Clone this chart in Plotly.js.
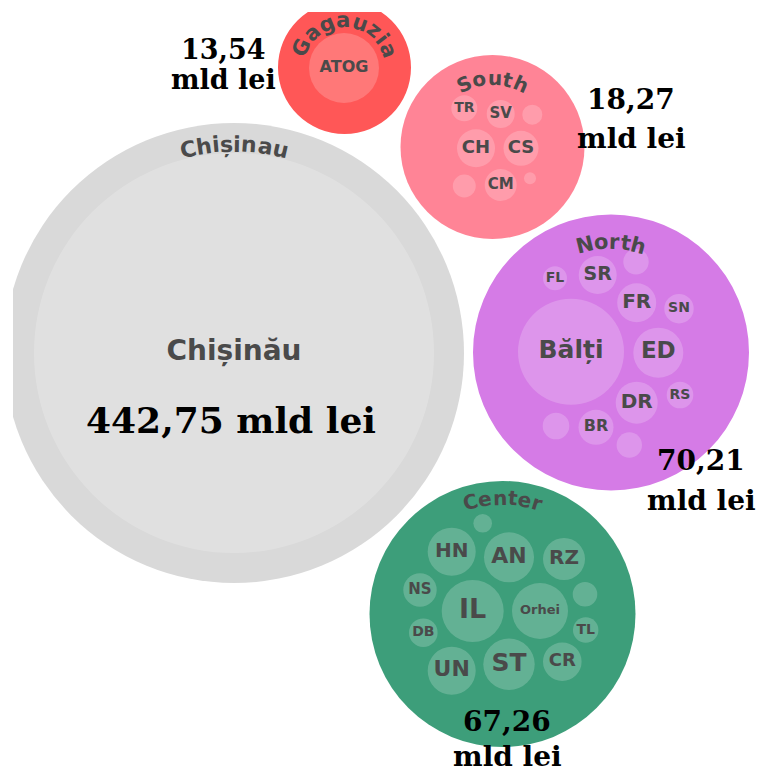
<!DOCTYPE html>
<html><head><meta charset="utf-8">
<script src="https://cdn.plot.ly/plotly-3.0.1.min.js"></script>
<style>html,body{margin:0;padding:0;background:#fff;overflow:hidden}#chart{width:758px;height:773px}</style>
</head><body><div id="chart"></div>
<script>
// ---------- DATA ----------
const groupNames     = ['Chișinău', 'Gagauzia', 'South', 'North', 'Center'];
const groupArcLabels = ['Chișinau', 'Gagauzia', 'South', 'North', 'Center'];
const groupTotals    = [442.75, 13.54, 18.27, 70.21, 67.26];   // mld lei

const leafGroup  = [0, 1,
  2,2,2,2,2,2,2,2,
  3,3,3,3,3,3,3,3,3,3,3,3,
  4,4,4,4,4,4,4,4,4,4,4,4,4];
const leafNames  = ['Chișinău', 'ATOG',
  'TR','SV','','CH','CS','','CM','',
  'Bălți','ED','FR','SR','FL','','SN','DR','RS','BR','','',
  'IL','Orhei','AN','HN','RZ','NS','','','DB','TL','UN','ST','CR'];
const leafValues = [442.75, 13.54,
  1.87, 2.17, 1.11, 4.00, 3.39, 1.46, 2.83, 0.40,
  31.1, 6.92, 4.21, 4.00, 1.59, 1.79, 2.39, 4.88, 1.96, 3.39, 1.96, 1.79,
  10.64, 8.68, 6.92, 6.38, 4.88, 3.09, 0.96, 1.67, 2.26, 1.79, 6.38, 7.31, 4.12];

// ---------- LAYOUT (positions, sizes, styles) ----------
const groupCx = [234, 344.5, 492.5, 611, 502.5];
const groupCy = [353, 67.5, 147, 352.5, 614];
const groupR  = [230, 66.5, 92, 138, 133];
const groupColors = ['#d9d9d9', '#ff5757', '#ff8496', '#d57be6', '#3d9e7a'];
const arcBaseR = [201, 40, 62, 103, 109];
const arcFont  = [22, 21, 20, 21, 20];
const leafCx = [234, 344,
  464.3, 500.7, 532.3, 476, 521, 464.3, 500.7, 530,
  571, 658.3, 636.7, 597.7, 555, 636, 679, 636.7, 680, 596, 556, 629.3,
  472.7, 540, 509, 451.7, 564, 420, 482.7, 585, 423.3, 585.7, 451.7, 509, 562.3];
const leafCy = [353, 68,
  108.3, 114, 114.7, 148.3, 148.3, 186, 185, 178.3,
  351.7, 352.7, 302.7, 275, 278.3, 261.7, 308.7, 402.7, 395, 427.3, 426, 445,
  611, 611, 557.3, 551.7, 559, 590, 523.3, 594.3, 632.7, 630, 670.7, 664.3, 661.7];
const leafFont = [28, 16,
  14, 15, 0, 18, 18, 0, 15, 0,
  25, 23, 20, 19, 14, 0, 14, 20, 14, 16, 0, 0,
  27, 13, 22, 20, 20, 15, 0, 0, 14, 14, 22, 25, 18];
const leafScale = 9.505;   // px per sqrt(mld lei)
const valueLabelPos = [
  [[231, 420]],
  [[223, 49], [223, 79]],
  [[631, 99], [631, 138]],
  [[701, 460], [701, 500]],
  [[507, 721], [507, 756]]
];
const valueFont = [36, 27, 28, 28, 28];
const greyText = '#4a4a4a';
const sansFam = 'DejaVu Sans, sans-serif';
const serifFam = 'DejaVu Serif, serif';

// ---------- BUILD ----------
const shapes = [];
groupNames.forEach((g, i) => {
  shapes.push({type:'circle', xref:'x', yref:'y', layer:'below',
    x0: groupCx[i]-groupR[i], x1: groupCx[i]+groupR[i],
    y0: groupCy[i]-groupR[i], y1: groupCy[i]+groupR[i],
    fillcolor: groupColors[i], line:{width:0}});
});
leafValues.forEach((v, i) => {
  const r = leafScale*Math.sqrt(v);
  shapes.push({type:'circle', xref:'x', yref:'y', layer:'below',
    x0: leafCx[i]-r, x1: leafCx[i]+r, y0: leafCy[i]-r, y1: leafCy[i]+r,
    fillcolor:'rgba(255,255,255,0.2)', line:{width:0}});
});

const annotations = [];
// curved group labels
const cv = document.createElement('canvas').getContext('2d');
groupArcLabels.forEach((lab, g) => {
  const fs = arcFont[g], Rb = arcBaseR[g];
  cv.font = 'bold ' + fs + 'px "DejaVu Sans"';
  const chars = Array.from(lab);
  const widths = chars.map(c => cv.measureText(c).width);
  const total = widths.reduce((a,b)=>a+b, 0);
  let s = 0;
  chars.forEach((c, k) => {
    const mid = s + widths[k]/2 - total/2;
    s += widths[k];
    const th = mid / Rb;
    const rc = Rb + 0.36*fs;
    annotations.push({xref:'x', yref:'y', showarrow:false,
      x: groupCx[g] + rc*Math.sin(th), y: groupCy[g] - rc*Math.cos(th),
      text: c, textangle: th*180/Math.PI, xanchor:'center', yanchor:'middle',
      font:{family:sansFam, size:fs, color:greyText, weight:700}});
  });
});
// value labels
groupTotals.forEach((t, g) => {
  const num = t.toFixed(2).replace('.', ',');
  const lines = valueLabelPos[g].length === 1 ? [num + ' mld lei'] : [num, 'mld lei'];
  lines.forEach((ln, k) => {
    annotations.push({xref:'x', yref:'y', showarrow:false,
      x: valueLabelPos[g][k][0], y: valueLabelPos[g][k][1], text: ln,
      xanchor:'center', yanchor:'middle', borderpad:0,
      font:{family:serifFam, size:valueFont[g], color:'#000', weight:700}});
  });
});

const idx = leafNames.map((n,i)=>i).filter(i => leafNames[i] !== '');
const trace = {
  type:'scatter', mode:'text', cliponaxis:false, hoverinfo:'none',
  x: idx.map(i=>leafCx[i]), y: idx.map(i=>leafCy[i]),
  text: idx.map(i=>leafNames[i]),
  textposition:'middle center',
  textfont:{family:sansFam, size: idx.map(i=>leafFont[i]), color: greyText, weight:700}
};

const layout = {
  width:758, height:773, margin:{l:13, r:0, t:12, b:0},
  paper_bgcolor:'#fff', plot_bgcolor:'rgba(0,0,0,0)', showlegend:false,
  xaxis:{range:[13,758], visible:false, fixedrange:true},
  yaxis:{range:[773,12], visible:false, fixedrange:true},
  shapes, annotations
};
Plotly.newPlot('chart', [trace], layout, {staticPlot:true, displayModeBar:false});
</script></body></html>
